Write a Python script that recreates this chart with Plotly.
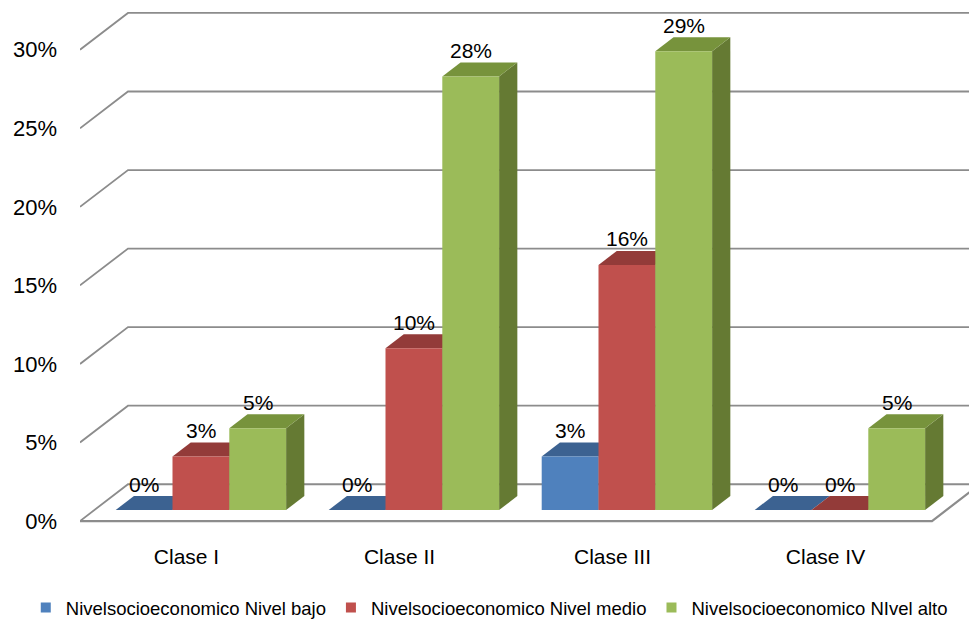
import plotly.graph_objects as go

categories = ["Clase I", "Clase II", "Clase III", "Clase IV"]
series_names = ["Nivelsocioeconomico Nivel bajo",
                "Nivelsocioeconomico Nivel medio",
                "Nivelsocioeconomico NIvel alto"]
nivel_bajo = [0.0, 0.0, 3.4, 0.0]
nivel_medio = [3.4, 10.3, 15.6, 0.0]
nivel_alto = [5.2, 27.6, 29.2, 5.2]
y_ticks = [0, 5, 10, 15, 20, 25, 30]

series_values = [nivel_bajo, nivel_medio, nivel_alto]
front_colors = ["#4F81BD", "#C0504D", "#9BBB59"]
top_colors = ["#3C6291", "#933B39", "#77933C"]
side_colors = ["#30507A", "#7A2F2D", "#657A33"]

# oblique projection in data units
DX = 48 / 213.0      # full depth, x shift (category units)
DY = 37 / 15.8       # full depth, y shift (percent units)
Z0, ZD = 0.30, 0.38  # bar depth start and depth
GROUP = 0.8
W = GROUP / 3
XMAX = 889 / 213.0
YMIN, YMAX = -6 / 15.8, 519 / 15.8
FONT = "Liberation Sans, Arial, sans-serif"
GRID = "#8C8C8C"

fig = go.Figure()

def poly(xs, ys, color):
    fig.add_trace(go.Scatter(x=xs + [xs[0]], y=ys + [ys[0]], mode="lines",
                             fill="toself", fillcolor=color,
                             line=dict(width=0, color=color),
                             hoverinfo="skip", showlegend=False))

def line(xs, ys, width=1.8):
    fig.add_trace(go.Scatter(x=xs, y=ys, mode="lines",
                             line=dict(color=GRID, width=width),
                             hoverinfo="skip", showlegend=False))

# walls / grid
for v in y_ticks:
    line([0, DX, XMAX + 1], [v, v + DY, v + DY])
# floor front and right edge
n = len(categories)
line([0, n, n + DX], [0, 0, DY], width=2.2)

annotations = []
for i, cat in enumerate(categories):
    for j in range(3):
        v = series_values[j][i]
        x0 = i + (1 - GROUP) / 2 + j * W + Z0 * DX
        x1 = x0 + W
        y0 = Z0 * DY
        y1 = y0 + v
        ddx, ddy = ZD * DX, ZD * DY
        # side face
        if v > 0:
            poly([x1, x1 + ddx, x1 + ddx, x1], [y0, y0 + ddy, y1 + ddy, y1], side_colors[j])
        # top face
        poly([x0, x1, x1 + ddx, x0 + ddx], [y1, y1, y1 + ddy, y1 + ddy], top_colors[j])
        # front face
        if v > 0:
            poly([x0, x1, x1, x0], [y0, y0, y1, y1], front_colors[j])
        annotations.append(dict(x=(x0 + x1) / 2, y=y1 + ddy, yshift=12,
                                text=f"{round(v):d}%", showarrow=False,
                                xanchor="center", yanchor="middle",
                                font=dict(family=FONT, size=21, color="#000000")))

# legend entries
for j in range(3):
    fig.add_trace(go.Scatter(x=[None], y=[None], mode="markers", name=series_names[j],
                             marker=dict(symbol="square", size=10, color=front_colors[j])))

fig.update_layout(
    width=969, height=627,
    margin=dict(l=80, r=0, t=5, b=97),
    paper_bgcolor="white", plot_bgcolor="white",
    annotations=annotations,
    showlegend=True,
    legend=dict(orientation="h", x=-0.061, xanchor="left",
                y=-0.156, yanchor="middle",
                font=dict(family=FONT, size=18.5, color="#000000"),
                itemwidth=30, tracegroupgap=0, bgcolor="rgba(0,0,0,0)"),
    xaxis=dict(range=[0, XMAX], showgrid=False, zeroline=False, showline=False,
               tickvals=[i + 0.5 for i in range(n)], ticktext=categories,
               ticks="", ticklabelstandoff=15,
               tickfont=dict(family=FONT, size=21, color="#000000")),
    yaxis=dict(range=[YMIN, YMAX], showgrid=False, zeroline=False, showline=False,
               tickvals=y_ticks, ticktext=[f"{v}%" for v in y_ticks],
               ticks="", ticklabelstandoff=22,
               tickfont=dict(family=FONT, size=22, color="#000000")),
)

fig.write_html("out.html")
